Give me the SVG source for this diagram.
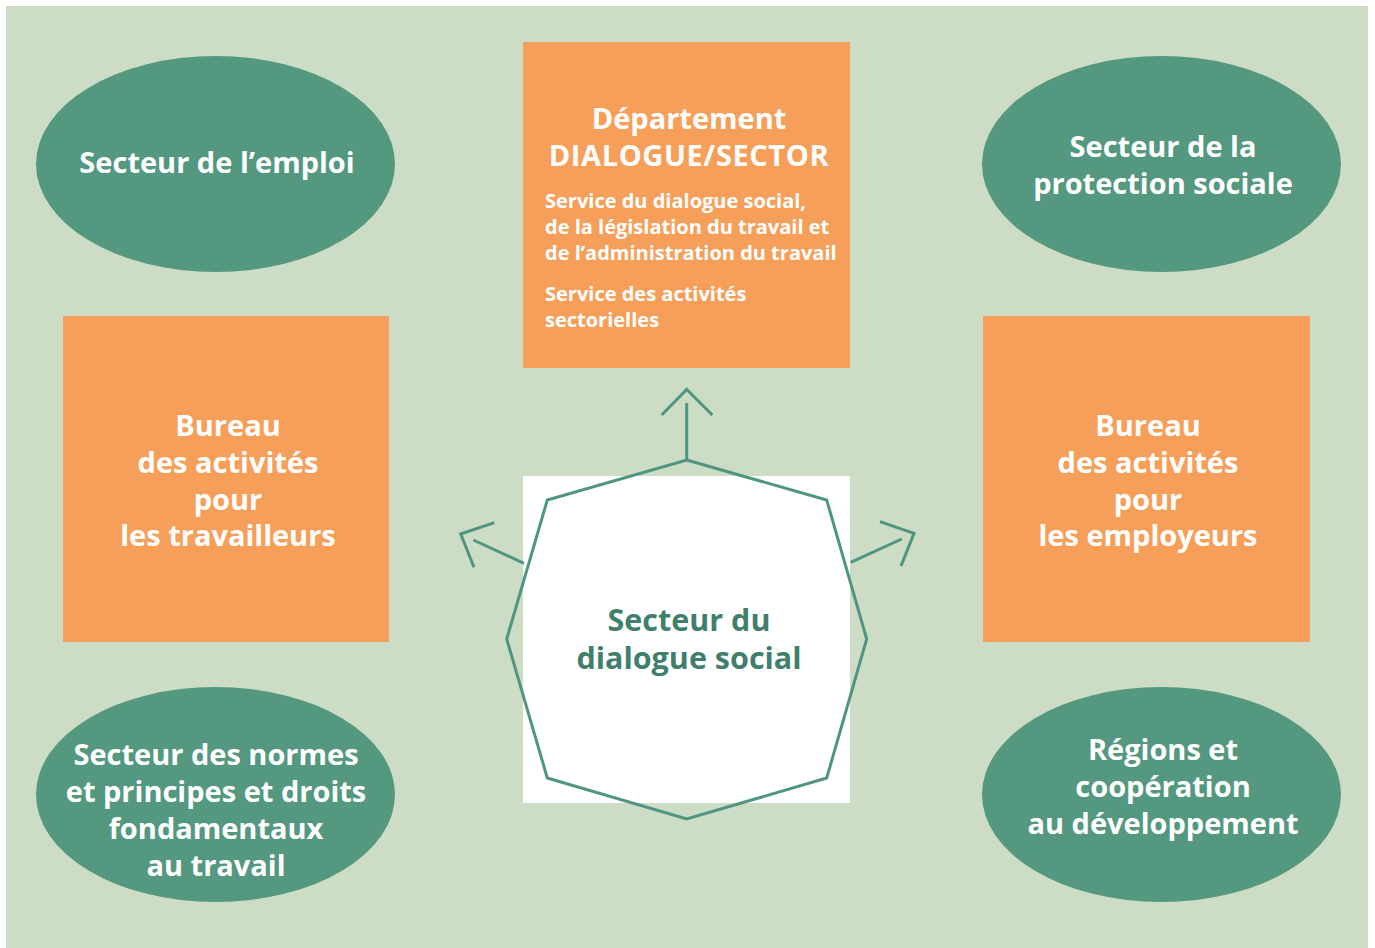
<svg xmlns="http://www.w3.org/2000/svg" width="1375" height="948" viewBox="0 0 1375 948">
<style>
.ell{fill:#53987f}
.box{fill:#f69f5a}
.t{font-family:"Open Sans","Noto Sans","DejaVu Sans",sans-serif;font-weight:bold;fill:#ffffff;text-anchor:middle;font-size:29px}
.s{font-family:"Open Sans","Noto Sans","DejaVu Sans",sans-serif;font-weight:bold;fill:#ffffff;font-size:20px}
.c{font-family:"Open Sans","Noto Sans","DejaVu Sans",sans-serif;font-weight:bold;fill:#3f7f6c;text-anchor:middle;font-size:30.5px}
.ln{fill:none;stroke:#4f9580;stroke-width:3}
</style>
<rect x="0" y="0" width="1375" height="948" fill="#ffffff"/>
<rect x="6" y="6" width="1362" height="942" fill="#cddcc5"/>
<g id="emploi">
<ellipse class="ell" cx="215.5" cy="164" rx="179.5" ry="108"/>
<text class="t" x="217" y="173">Secteur de l’emploi</text>
</g>
<g id="protection">
<ellipse class="ell" cx="1161.5" cy="164" rx="179.5" ry="108"/>
<text class="t" x="1163" y="157">Secteur de la</text>
<text class="t" x="1163" y="194">protection sociale</text>
</g>
<g id="normes">
<ellipse class="ell" cx="215.5" cy="794.5" rx="179.5" ry="107.5"/>
<text class="t" x="216" y="765">Secteur des normes</text>
<text class="t" x="216" y="802">et principes et droits</text>
<text class="t" x="216" y="839">fondamentaux</text>
<text class="t" x="216" y="876">au travail</text>
</g>
<g id="regions">
<ellipse class="ell" cx="1161.5" cy="794.5" rx="179.5" ry="107.5"/>
<text class="t" x="1163" y="760">Régions et</text>
<text class="t" x="1163" y="797">coopération</text>
<text class="t" x="1163" y="834">au développement</text>
</g>
<g id="departement">
<rect class="box" x="523" y="42" width="327" height="326"/>
<text class="t" x="689" y="129">Département</text>
<text class="t" x="689" y="166" style="letter-spacing:0.6px">DIALOGUE/SECTOR</text>
<text class="s" x="545" y="208">Service du dialogue social,</text>
<text class="s" x="545" y="234">de la législation du travail et</text>
<text class="s" x="545" y="260">de l’administration du travail</text>
<text class="s" x="545" y="301">Service des activités</text>
<text class="s" x="545" y="327">sectorielles</text>
</g>
<g id="travailleurs">
<rect class="box" x="63" y="316" width="326" height="326"/>
<text class="t" x="228" y="436">Bureau</text>
<text class="t" x="228" y="473">des activités</text>
<text class="t" x="228" y="510">pour</text>
<text class="t" x="228" y="546">les travailleurs</text>
</g>
<g id="employeurs">
<rect class="box" x="983" y="316" width="327" height="326"/>
<text class="t" x="1148" y="436">Bureau</text>
<text class="t" x="1148" y="473">des activités</text>
<text class="t" x="1148" y="510">pour</text>
<text class="t" x="1148" y="546">les employeurs</text>
</g>
<g id="dialogue">
<rect x="523" y="476" width="327" height="327" fill="#ffffff"/>
<polygon class="ln" points="686.7,460 826.7,500 866.7,639 826.7,778 686.7,819 547.3,778 506.7,639 547.3,500"/>
<text class="c" x="689" y="631">Secteur du</text>
<text class="c" x="689" y="669">dialogue social</text>
</g>
<g id="connectors">
<line class="ln" x1="686.7" y1="460" x2="686.7" y2="403"/>
<polyline class="ln" points="661.7,415 686.7,389.5 712.3,415"/>
<line class="ln" x1="524" y1="563.3" x2="473.3" y2="540"/>
<polyline class="ln" points="494.3,522.7 460.7,534 474,567.3"/>
<line class="ln" x1="850.7" y1="562.3" x2="901.7" y2="539"/>
<polyline class="ln" points="880,521.7 914,533.3 901,566"/>
</g>
</svg>
